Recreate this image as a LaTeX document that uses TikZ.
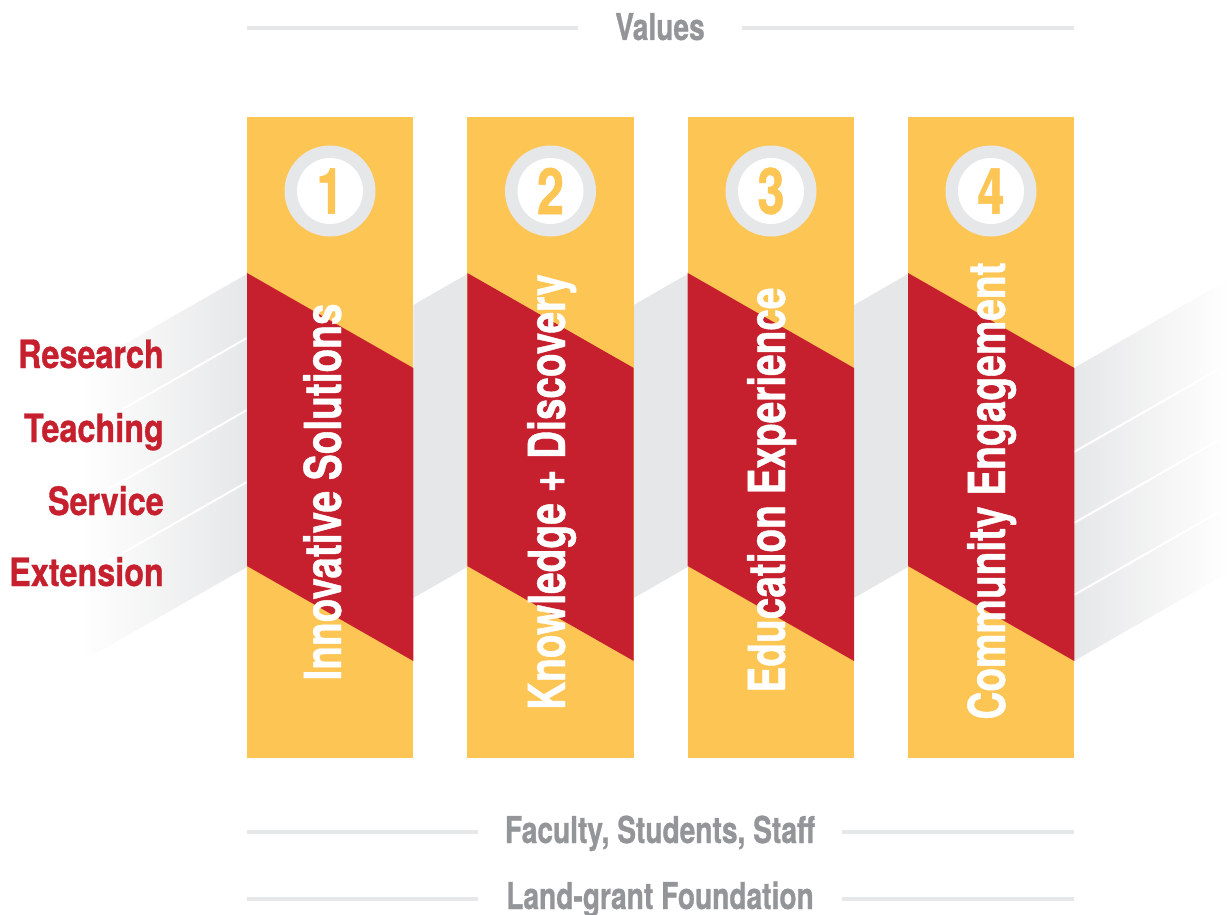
\documentclass[tikz,border=0pt]{standalone}
\usepackage{fontspec}
\newfontfamily\condfont[FakeStretch=0.76, FakeBold=0.8]{TeX Gyre Heros}
\newfontfamily\labelfont[FakeStretch=0.83, FakeBold=0.8]{TeX Gyre Heros}
\definecolor{pillaryellow}{HTML}{FDC553}
\definecolor{crimson}{HTML}{C6202F}
\definecolor{bandgray}{HTML}{E6E7E8}
\definecolor{textgray}{HTML}{939598}

\begin{document}
\begin{tikzpicture}[
    x = 1pt, y = -1pt,
    line join=round,
    pillar/.style = {fill=pillaryellow},
    redband/.style = {fill=crimson},
    seam/.style = {white, line width=2pt},
    rule/.style = {bandgray, line width=4pt},
    pillartext/.style = {rotate=90, anchor=base, inner sep=0, text=white,
        font=\condfont\bfseries\fontsize{51}{51}\selectfont},
    numtext/.style = {inner sep=0, text=pillaryellow,
        font=\condfont\bfseries\fontsize{64}{64}\selectfont},
    labeltext/.style = {anchor=base east, inner sep=0, text=crimson,
        font=\labelfont\bfseries\fontsize{39}{39}\selectfont},
    titletext/.style = {anchor=base, inner sep=0, text=textgray,
        font=\condfont\bfseries\fontsize{37}{37}\selectfont}
]
\useasboundingbox (0, 0) rectangle (1229, 915);

% gray band behind the pillars
\shade[left color=white, middle color=bandgray!65!white, right color=bandgray]
    (80, 369.5) -- (247, 274) -- (247, 567) -- (80, 662.5) -- cycle;
\fill[bandgray] (413.3, 305) -- (467.3, 274) -- (467.3, 567) -- (413.3, 598) -- cycle;
\fill[bandgray] (633.7, 305) -- (687.7, 274) -- (687.7, 567) -- (633.7, 598) -- cycle;
\fill[bandgray] (854, 305) -- (908, 274) -- (908, 567) -- (854, 598) -- cycle;
\shade[left color=bandgray, middle color=bandgray!60!white, right color=white]
    (1074, 368) -- (1229, 279) -- (1229, 572) -- (1074, 661) -- cycle;

\draw[seam] (247, 338) -- (80, 433.5);
\draw[seam] (247, 410) -- (80, 505.5);
\draw[seam] (247, 482) -- (80, 577.5);
\draw[seam] (1074, 452) -- (1229, 363.3);
\draw[seam] (1074, 523) -- (1229, 434.3);
\draw[seam] (1074, 595) -- (1229, 506.3);

% pillars
\fill[pillar] (247, 117) rectangle (413.3, 758);
\fill[redband] (247, 273) -- (413.3, 368) -- (413.3, 661) -- (247, 566) -- cycle;
\fill[pillar] (467.3, 117) rectangle (633.7, 758);
\fill[redband] (467.3, 273) -- (633.7, 368) -- (633.7, 661) -- (467.3, 566) -- cycle;
\fill[pillar] (687.7, 117) rectangle (854, 758);
\fill[redband] (687.7, 273) -- (854, 368) -- (854, 661) -- (687.7, 566) -- cycle;
\fill[pillar] (908, 117) rectangle (1074.3, 758);
\fill[redband] (908, 273) -- (1074.3, 368) -- (1074.3, 661) -- (908, 566) -- cycle;

% number badges
\fill[bandgray] (330, 191) circle (45.5pt);
\fill[white] (330, 191) circle (33pt);
\node[numtext] (num1) at (330, 191) {1};
\fill[bandgray] (550.5, 191) circle (45.5pt);
\fill[white] (550.5, 191) circle (33pt);
\node[numtext] (num2) at (550.5, 191) {2};
\fill[bandgray] (771, 191) circle (45.5pt);
\fill[white] (771, 191) circle (33pt);
\node[numtext] (num3) at (771, 191) {3};
\fill[bandgray] (991, 191) circle (45.5pt);
\fill[white] (991, 191) circle (33pt);
\node[numtext] (num4) at (991, 191) {4};

% pillar titles
\node[pillartext] (innov) at (341, 492) {Innovative Solutions};
\node[pillartext] (knowl) at (565, 492) {Knowledge + Discovery};
\node[pillartext] (educ) at (785, 490) {Education Experience};
\node[pillartext] (commun) at (1005, 491) {Community Engagement};

% mission labels
\node[labeltext] (research) at (164, 368) {Research};
\node[labeltext] (teaching) at (164, 442) {Teaching};
\node[labeltext] (service) at (164, 515) {Service};
\node[labeltext] (extension) at (164, 586) {Extension};

% titles with rules
\node[titletext] (values) at (660, 40) {Values};
\draw[rule] (247, 28) -- (578, 28);
\draw[rule] (742, 28) -- (1074, 28);

\node[titletext] (people) at (660, 843) {Faculty, Students, Staff};
\draw[rule] (247, 832) -- (478, 832);
\draw[rule] (842, 832) -- (1074, 832);

\node[titletext] (landgrant) at (660, 909) {Land-grant Foundation};
\draw[rule] (247, 899) -- (478, 899);
\draw[rule] (842, 899) -- (1074, 899);

\end{tikzpicture}
\end{document}
